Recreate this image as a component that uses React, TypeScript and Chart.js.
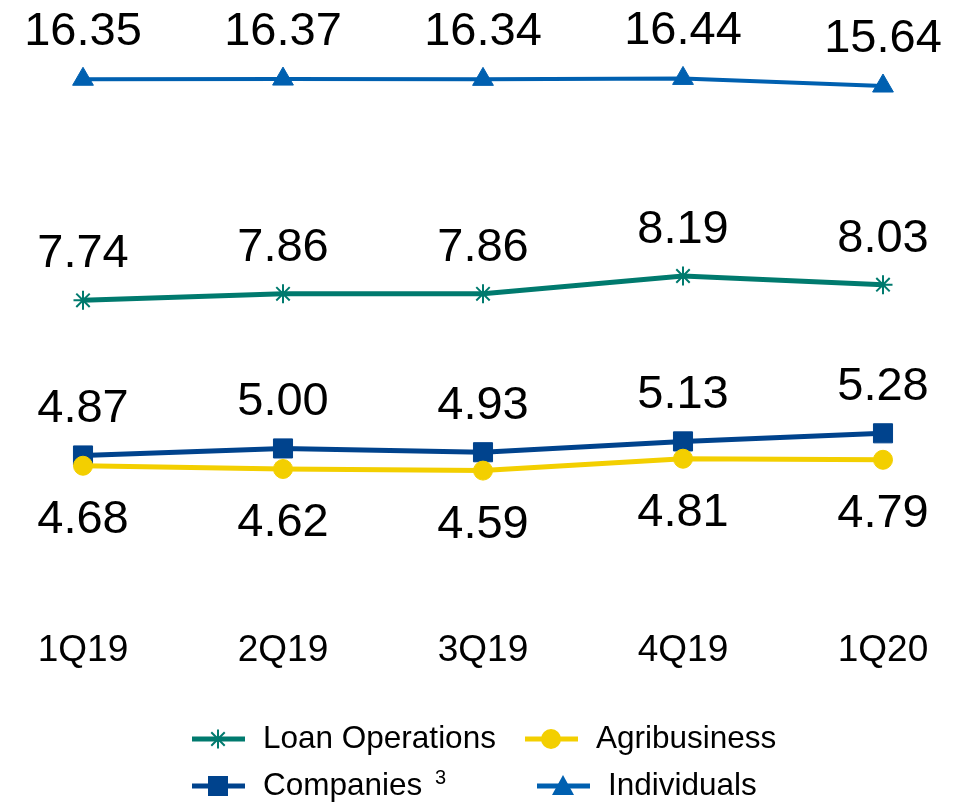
import React, { useEffect, useRef } from "react";
import { Chart, registerables } from "chart.js";

Chart.register(...registerables);

const quarters = ["1Q19", "2Q19", "3Q19", "4Q19", "1Q20"];
const loanOperations = [7.74, 7.86, 7.86, 8.19, 8.03];
const agribusiness = [4.68, 4.62, 4.59, 4.81, 4.79];
const companies = [4.87, 5.0, 4.93, 5.13, 5.28];
const individuals = [16.35, 16.37, 16.34, 16.44, 15.64];
const seriesNames = ["Loan Operations", "Agribusiness", "Companies", "Individuals"];
const seriesNotes = ["", "", "3", ""];

const FONT = "'Liberation Sans', Arial, Helvetica, sans-serif";
const COLORS = ["#007A6E", "#F3CF00", "#00438D", "#0060B0"];
const STYLES = ["star", "circle", "rect", "triangle"];

function drawMarker(ctx: CanvasRenderingContext2D, style: string, x: number, y: number, color: string) {
  ctx.save();
  ctx.fillStyle = color;
  ctx.strokeStyle = color;
  if (style === "star") {
    ctx.lineWidth = 2;
    const r = 9.5;
    ctx.beginPath();
    for (let k = 0; k < 4; k++) {
      const a = (k * Math.PI) / 4;
      ctx.moveTo(x + Math.cos(a) * r, y + Math.sin(a) * r);
      ctx.lineTo(x - Math.cos(a) * r, y - Math.sin(a) * r);
    }
    ctx.stroke();
  } else if (style === "circle") {
    ctx.beginPath();
    ctx.arc(x, y, 10, 0, Math.PI * 2);
    ctx.fill();
  } else if (style === "rect") {
    ctx.fillRect(x - 10, y - 10, 20, 20);
  } else if (style === "triangle") {
    ctx.beginPath();
    ctx.moveTo(x, y - 11);
    ctx.lineTo(x + 11, y + 9);
    ctx.lineTo(x - 11, y + 9);
    ctx.closePath();
    ctx.fill();
  }
  ctx.restore();
}

const dataLabelPlugin = {
  id: "dataLabelPlugin",
  afterDatasetsDraw(chart: any) {
    const ctx = chart.ctx as CanvasRenderingContext2D;
    ctx.save();
    ctx.font = `47px ${FONT}`;
    ctx.fillStyle = "#000";
    ctx.textAlign = "center";
    ctx.textBaseline = "middle";
    chart.data.datasets.forEach((ds: any, i: number) => {
      const meta = chart.getDatasetMeta(i);
      meta.data.forEach((pt: any, j: number) => {
        const v = ds.data[j] as number;
        ctx.fillText(v.toFixed(2), pt.x, pt.y + ds.labelOffset);
      });
    });
    ctx.restore();
  },
};

const legendPlugin = {
  id: "customLegend",
  afterDraw(chart: any) {
    const ctx = chart.ctx as CanvasRenderingContext2D;
    const cols = [192, 525];
    const cols2 = [192, 537];
    const rows = [739, 786];
    const order = [0, 1, 2, 3];
    ctx.save();
    order.forEach((i, k) => {
      const row = Math.floor(k / 2);
      const col = k % 2;
      const x0 = row === 0 ? cols[col] : cols2[col];
      const y = rows[row];
      const color = COLORS[i];
      ctx.strokeStyle = color;
      ctx.lineWidth = 5;
      ctx.beginPath();
      ctx.moveTo(x0, y);
      ctx.lineTo(x0 + 53, y);
      ctx.stroke();
      drawMarker(ctx, STYLES[i], x0 + 26, y, color);
      ctx.fillStyle = "#000";
      ctx.font = `31.5px ${FONT}`;
      ctx.textAlign = "left";
      ctx.textBaseline = "middle";
      const tx = x0 + 71;
      ctx.fillText(seriesNames[i], tx, y);
      if (seriesNotes[i]) {
        const w = ctx.measureText(seriesNames[i] + " ").width;
        ctx.font = `20px ${FONT}`;
        ctx.fillText(seriesNotes[i], tx + w + 4, y - 8);
      }
    });
    ctx.restore();
  },
};

export default function App() {
  const ref = useRef<HTMLCanvasElement | null>(null);

  useEffect(() => {
    document.body.style.margin = "0";
    const canvas = ref.current;
    if (!canvas) return;
    const mk = (idx: number, data: number[], yAxisID: string, lineWidth: number, pointRadius: number, labelOffset: number) => ({
      label: seriesNames[idx],
      data,
      yAxisID,
      borderColor: COLORS[idx],
      backgroundColor: COLORS[idx],
      pointBackgroundColor: COLORS[idx],
      pointBorderColor: COLORS[idx],
      pointStyle: STYLES[idx],
      pointRadius,
      pointBorderWidth: STYLES[idx] === "star" ? 2 : 1,
      borderWidth: lineWidth,
      tension: 0,
      fill: false,
      labelOffset,
    });
    const chart = new Chart(canvas, {
      type: "line",
      data: {
        labels: quarters,
        datasets: [
          mk(0, loanOperations, "y", 5, 9.5, -46),
          mk(1, agribusiness, "y", 5, 9.5, 54),
          mk(2, companies, "y", 5, 13.5, -46),
          mk(3, individuals, "y2", 4, 12, -47),
        ] as any,
      },
      options: {
        responsive: false,
        animation: false,
        layout: { padding: { left: 83, right: 81, top: 16, bottom: 114 } },
        plugins: {
          legend: { display: false },
          tooltip: { enabled: false },
        },
        scales: {
          x: {
            type: "category",
            offset: false,
            grid: { display: false, drawTicks: false },
            border: { display: false },
            ticks: {
              color: "#000",
              font: { family: FONT, size: 37 },
              padding: 18,
              maxRotation: 0,
              autoSkip: false,
            },
          },
          y: { display: false, min: 2, max: 13 },
          y2: { display: false, min: -39.5, max: 23, position: "right" },
        },
      },
      plugins: [dataLabelPlugin, legendPlugin],
    });
    return () => chart.destroy();
  }, []);

  return <canvas ref={ref} width={964} height={805} style={{ display: "block" }} />;
}
